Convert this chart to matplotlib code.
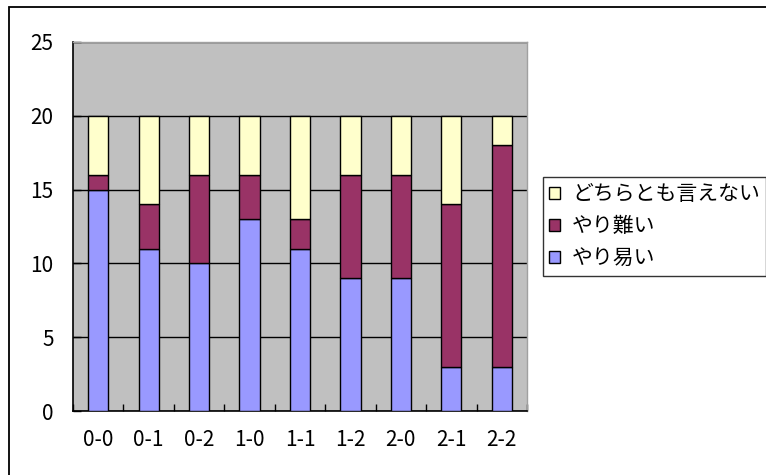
import matplotlib
matplotlib.use("Agg")
import matplotlib.pyplot as plt
import numpy as np
from matplotlib.patches import Rectangle

plt.rcParams['font.family'] = ['Noto Sans CJK JP', 'DejaVu Sans']

categories = ["0-0", "0-1", "0-2", "1-0", "1-1", "1-2", "2-0", "2-1", "2-2"]
easy = [15, 11, 10, 13, 11, 9, 9, 3, 3]        # やり易い
hard = [1, 3, 6, 3, 2, 7, 7, 11, 15]           # やり難い
neutral = [4, 6, 4, 4, 7, 4, 4, 6, 2]          # どちらとも言えない
yticks = [0, 5, 10, 15, 20, 25]

fig = plt.figure(figsize=(7.66, 4.75), dpi=100)
fig.patch.set_facecolor("white")

# outer chart-area frame (left and top edges visible)
fig.patches.append(Rectangle((9 / 766, -0.2), 1.5, (475 - 7) / 475 + 0.2,
                             transform=fig.transFigure, fill=False,
                             edgecolor="black", linewidth=1.3))

ax = fig.add_axes([73 / 766, 64 / 475, 454 / 766, 369 / 475])
ax.set_facecolor("#C0C0C0")

x = np.arange(len(categories))
w = 0.4
kw = dict(width=w, edgecolor="black", linewidth=1.0, zorder=3)
b1 = ax.bar(x, easy, color="#9999FF", label="やり易い", **kw)
b2 = ax.bar(x, hard, bottom=easy, color="#993366", label="やり難い", **kw)
b3 = ax.bar(x, neutral, bottom=np.add(easy, hard), color="#FFFFCC",
            label="どちらとも言えない", **kw)

ax.set_xlim(-0.5, len(categories) - 0.5)
ax.set_ylim(0, 25)
ax.set_yticks(yticks)
ax.yaxis.grid(True, color="black", linewidth=1.0, zorder=1)
ax.set_axisbelow(True)

ax.set_xticks(x)
ax.set_xticklabels(categories, fontsize=15)
ax.set_xticks(np.arange(len(categories) + 1) - 0.5, minor=True)
ax.tick_params(axis="x", which="major", length=0, pad=13)
ax.tick_params(axis="x", which="minor", direction="in", length=5, width=1)
ax.tick_params(axis="y", direction="in", length=6, width=1, pad=14, labelsize=15)

for s in ("left", "bottom"):
    ax.spines[s].set_color("black")
    ax.spines[s].set_linewidth(1.2)
for s in ("top", "right"):
    ax.spines[s].set_color("#A0A0A0")
    ax.spines[s].set_linewidth(1.0)

leg = fig.legend(handles=[b3, b2, b1], loc="upper left",
                 bbox_to_anchor=(543 / 766, (475 - 177) / 475),
                 frameon=True, fancybox=False, edgecolor="black",
                 fontsize=15, handlelength=0.5, handleheight=0.5,
                 handletextpad=0.6, labelspacing=0.48, borderpad=0.3,
                 borderaxespad=0)
leg.get_frame().set_linewidth(1.0)

fig.savefig("out.png", dpi=100)
